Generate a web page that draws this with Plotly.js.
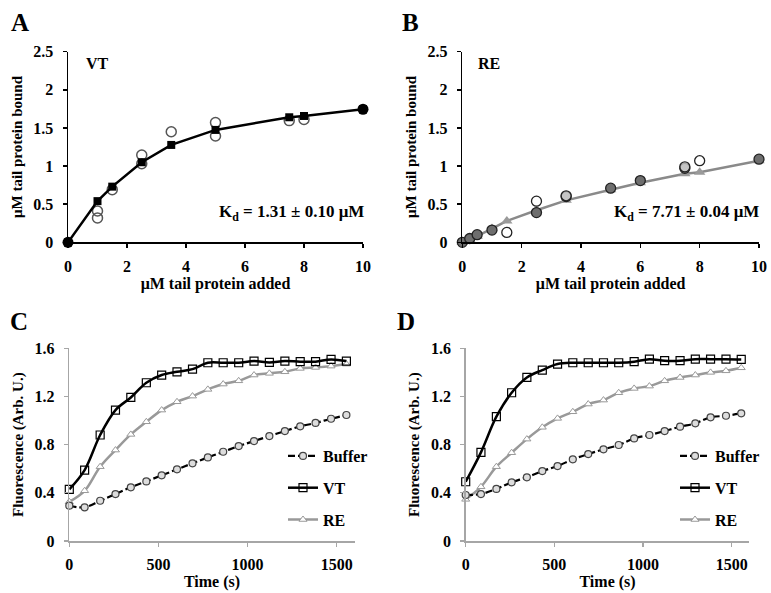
<!DOCTYPE html>
<html>
<head>
<meta charset="utf-8">
<script src="https://cdn.plot.ly/plotly-3.0.1.min.js"></script>
<style>html,body{margin:0;padding:0;background:#fff;}#chart{width:771px;height:593px;}</style>
</head>
<body>
<div id="chart"></div>
<script>
// ---- Panel A (VT binding) ----
var aConc = [0, 1, 1.5, 2.5, 3.5, 5, 7.5, 8, 10];
var aFit = [0, 0.54, 0.73, 1.05, 1.277, 1.474, 1.64, 1.657, 1.745];
var aOpenX = [1, 1, 1.5, 2.5, 2.5, 3.5, 5, 5, 7.5, 8];
var aOpenY = [0.41, 0.32, 0.69, 1.145, 1.03, 1.45, 1.57, 1.395, 1.596, 1.61];
var aFilledX = [0, 10];
var aFilledY = [0, 1.745];

// ---- Panel B (RE binding) ----
var bConc = [0, 0.25, 0.5, 1, 1.5, 2.5, 3.5, 5, 6, 7.5, 8, 10];
var bFit = [0, 0.04, 0.08, 0.18, 0.28, 0.42, 0.55, 0.69, 0.78, 0.9, 0.92, 1.07];
var bFillX = [0, 0.25, 0.5, 1, 2.5, 3.5, 5, 6, 7.5, 10];
var bFillY = [0, 0.05, 0.1, 0.16, 0.39, 0.6, 0.71, 0.81, 0.97, 1.09];
var bOpenX = [1.5, 2.5, 3.5, 7.5, 8];
var bOpenY = [0.13, 0.54, 0.61, 0.99, 1.07];

// ---- Panels C and D (fluorescence time courses) ----
var timeS = [0, 86, 173, 259, 345, 432, 518, 604, 691, 777, 863, 950, 1036, 1122, 1209, 1295, 1381, 1468, 1554];
var cBuffer = [0.293, 0.28, 0.334, 0.39, 0.446, 0.495, 0.545, 0.595, 0.645, 0.694, 0.741, 0.788, 0.83, 0.871, 0.913, 0.952, 0.98, 1.015, 1.046];
var cVT = [0.429, 0.589, 0.88, 1.087, 1.192, 1.314, 1.378, 1.405, 1.427, 1.48, 1.48, 1.48, 1.494, 1.483, 1.494, 1.489, 1.489, 1.508, 1.494];
var cRE = [0.326, 0.417, 0.617, 0.755, 0.885, 0.99, 1.087, 1.156, 1.203, 1.259, 1.303, 1.33, 1.378, 1.392, 1.405, 1.433, 1.441, 1.452, 1.469];
var dBuffer = [0.382, 0.39, 0.432, 0.487, 0.529, 0.581, 0.622, 0.678, 0.722, 0.761, 0.797, 0.852, 0.88, 0.913, 0.949, 0.977, 1.027, 1.04, 1.06];
var dVT = [0.492, 0.736, 1.032, 1.231, 1.358, 1.419, 1.469, 1.48, 1.48, 1.48, 1.48, 1.489, 1.51, 1.497, 1.497, 1.51, 1.51, 1.51, 1.508];
var dRE = [0.346, 0.45, 0.617, 0.733, 0.846, 0.944, 1.018, 1.073, 1.137, 1.17, 1.231, 1.267, 1.286, 1.33, 1.358, 1.378, 1.4, 1.413, 1.438];

var seriesNames = ['Buffer', 'VT', 'RE'];
var panelLetters = ['A', 'B', 'C', 'D'];

var FONT = 'Liberation Serif, Times New Roman, serif';

var traces = [];
// A
traces.push({x: aOpenX, y: aOpenY, xaxis: 'x', yaxis: 'y', mode: 'markers', showlegend: false, cliponaxis: false,
  marker: {symbol: 'circle', size: 10, color: 'rgba(255,255,255,0)', line: {color: '#555', width: 1.5}}});
traces.push({x: aConc, y: aFit, xaxis: 'x', yaxis: 'y', mode: 'lines+markers', showlegend: false, cliponaxis: false,
  line: {color: '#000', width: 2.5}, marker: {symbol: 'square', size: 8, color: '#000'}});
traces.push({x: aFilledX, y: aFilledY, xaxis: 'x', yaxis: 'y', mode: 'markers', showlegend: false, cliponaxis: false,
  marker: {symbol: 'circle', size: 11, color: '#000'}});
// B
traces.push({x: bConc, y: bFit, xaxis: 'x2', yaxis: 'y2', mode: 'lines+markers', showlegend: false, cliponaxis: false,
  line: {color: '#8a8a8a', width: 2.5}, marker: {symbol: 'triangle-up', size: 10, color: '#9a9a9a'}});
traces.push({x: bFillX, y: bFillY, xaxis: 'x2', yaxis: 'y2', mode: 'markers', showlegend: false, cliponaxis: false,
  marker: {symbol: 'circle', size: 10, color: '#6e6e6e', line: {color: '#222', width: 1.3}}});
traces.push({x: bOpenX, y: bOpenY, xaxis: 'x2', yaxis: 'y2', mode: 'markers', showlegend: false, cliponaxis: false,
  marker: {symbol: 'circle', size: 10, color: 'rgba(255,255,255,0.6)', line: {color: '#222', width: 1.3}}});

function kinetic(ax, ay, buf, vt, re, leg) {
  traces.push({x: timeS, y: re, xaxis: ax, yaxis: ay, name: seriesNames[2], legend: leg, legendgroup: leg + 're', legendrank: 3,
    mode: 'lines+markers', cliponaxis: false, line: {color: '#999', width: 2.5, shape: 'spline'},
    marker: {symbol: 'triangle-up', size: 7, color: '#fff', line: {color: '#999', width: 1}}});
  traces.push({x: timeS, y: vt, xaxis: ax, yaxis: ay, name: seriesNames[1], legend: leg, legendgroup: leg + 'vt', legendrank: 2,
    mode: 'lines+markers', cliponaxis: false, line: {color: '#000', width: 2.5, shape: 'spline'},
    marker: {symbol: 'square-open', size: 8, color: '#000', line: {width: 1.2}}});
  traces.push({x: timeS, y: buf, xaxis: ax, yaxis: ay, name: seriesNames[0], legend: leg, legendgroup: leg + 'buf', legendrank: 1,
    mode: 'lines+markers', cliponaxis: false, line: {color: '#000', width: 2.2, dash: '7px,3px', shape: 'spline'},
    marker: {symbol: 'circle', size: 7, color: '#ddd', line: {color: '#444', width: 1.2}}});
}
kinetic('x3', 'y3', cBuffer, cVT, cRE, 'legend');
kinetic('x4', 'y4', dBuffer, dVT, dRE, 'legend2');

var W = 771, H = 593;
function xd(a, b) { return [a / W, b / W]; }
function yd(bottom, top) { return [1 - bottom / H, 1 - top / H]; }

function bindX(dom, anchor) {
  return {domain: dom, anchor: anchor, range: [0, 10], dtick: 2, tick0: 0, showgrid: false, zeroline: false,
    showline: true, linecolor: '#000', linewidth: 1.5, ticks: 'outside', ticklen: 4, tickcolor: '#000', tickwidth: 1.5,
    ticklabelstandoff: 5, tickfont: {size: 16}, title: {text: 'μM tail protein added', font: {size: 16}, standoff: 3}};
}
function bindY(dom, anchor) {
  return {domain: dom, anchor: anchor, range: [0, 2.5], dtick: 0.5, tick0: 0, showgrid: false, zeroline: false,
    showline: true, linecolor: '#000', linewidth: 1.5, ticks: 'outside', ticklen: 4, tickcolor: '#000', tickwidth: 1.5,
    ticklabelstandoff: 6, tickfont: {size: 16}, title: {text: 'μM tail protein bound', font: {size: 15}, standoff: 7}};
}
function kinX(dom, anchor) {
  return {domain: dom, anchor: anchor, range: [0, 1600], dtick: 500, tick0: 0, showgrid: false, zeroline: false,
    showline: true, linecolor: '#a6a6a6', linewidth: 1.5, ticks: 'outside', ticklen: 4, tickcolor: '#a6a6a6', tickwidth: 1.2,
    ticklabelstandoff: 4, tickfont: {size: 16}, title: {text: 'Time (s)', font: {size: 16}, standoff: 4}};
}
function kinY(dom, anchor) {
  return {domain: dom, anchor: anchor, range: [0, 1.6], dtick: 0.4, tick0: 0, showgrid: false, zeroline: false,
    showline: true, linecolor: '#a6a6a6', linewidth: 1.5, ticks: 'outside', ticklen: 4, tickcolor: '#a6a6a6', tickwidth: 1.2,
    ticklabelstandoff: 6, tickfont: {size: 16}, title: {text: 'Fluorescence (Arb. U.)', font: {size: 15}, standoff: 7}};
}

var legendBase = {bgcolor: 'rgba(0,0,0,0)', font: {size: 16}, tracegroupgap: 8, traceorder: 'grouped', itemwidth: 30,
  xanchor: 'left', yanchor: 'top'};

var layout = {
  width: W, height: H, margin: {l: 0, r: 0, t: 0, b: 0}, paper_bgcolor: '#fff', plot_bgcolor: 'rgba(0,0,0,0)',
  font: {family: FONT, size: 16, color: '#000', weight: 'bold'},
  xaxis: bindX(xd(68, 363), 'y'), yaxis: bindY(yd(242.3, 51.7), 'x'),
  xaxis2: bindX(xd(462.3, 759), 'y2'), yaxis2: bindY(yd(242.3, 51.7), 'x2'),
  xaxis3: kinX(xd(69.3, 354.6), 'y3'), yaxis3: kinY(yd(541, 348.3), 'x3'),
  xaxis4: kinX(xd(465.7, 749.4), 'y4'), yaxis4: kinY(yd(541, 348.3), 'x4'),
  legend: Object.assign({x: 283 / W, y: 1 - 439 / H}, legendBase),
  legend2: Object.assign({x: 675 / W, y: 1 - 439 / H}, legendBase),
  annotations: [
    {text: panelLetters[0], xref: 'paper', yref: 'paper', x: 9 / W, y: 1 - 7 / H, xanchor: 'left', yanchor: 'top', showarrow: false, font: {size: 25}},
    {text: panelLetters[1], xref: 'paper', yref: 'paper', x: 400 / W, y: 1 - 7 / H, xanchor: 'left', yanchor: 'top', showarrow: false, font: {size: 25}},
    {text: panelLetters[2], xref: 'paper', yref: 'paper', x: 8 / W, y: 1 - 306 / H, xanchor: 'left', yanchor: 'top', showarrow: false, font: {size: 25}},
    {text: panelLetters[3], xref: 'paper', yref: 'paper', x: 395 / W, y: 1 - 306 / H, xanchor: 'left', yanchor: 'top', showarrow: false, font: {size: 25}},
    {text: 'VT', xref: 'paper', yref: 'paper', x: 84 / W, y: 1 - 63 / H, xanchor: 'left', yanchor: 'middle', showarrow: false, font: {size: 16}},
    {text: 'RE', xref: 'paper', yref: 'paper', x: 476 / W, y: 1 - 63 / H, xanchor: 'left', yanchor: 'middle', showarrow: false, font: {size: 16}},
    {text: 'K<sub>d</sub> = 1.31 ± 0.10 μM', xref: 'paper', yref: 'paper', x: 366 / W, y: 1 - 213 / H, xanchor: 'right', yanchor: 'middle', showarrow: false, font: {size: 17}},
    {text: 'K<sub>d</sub> = 7.71 ± 0.04 μM', xref: 'paper', yref: 'paper', x: 761 / W, y: 1 - 213 / H, xanchor: 'right', yanchor: 'middle', showarrow: false, font: {size: 17}}
  ]
};

Plotly.newPlot('chart', traces, layout, {displayModeBar: false, staticPlot: true});
</script>
</body>
</html>
